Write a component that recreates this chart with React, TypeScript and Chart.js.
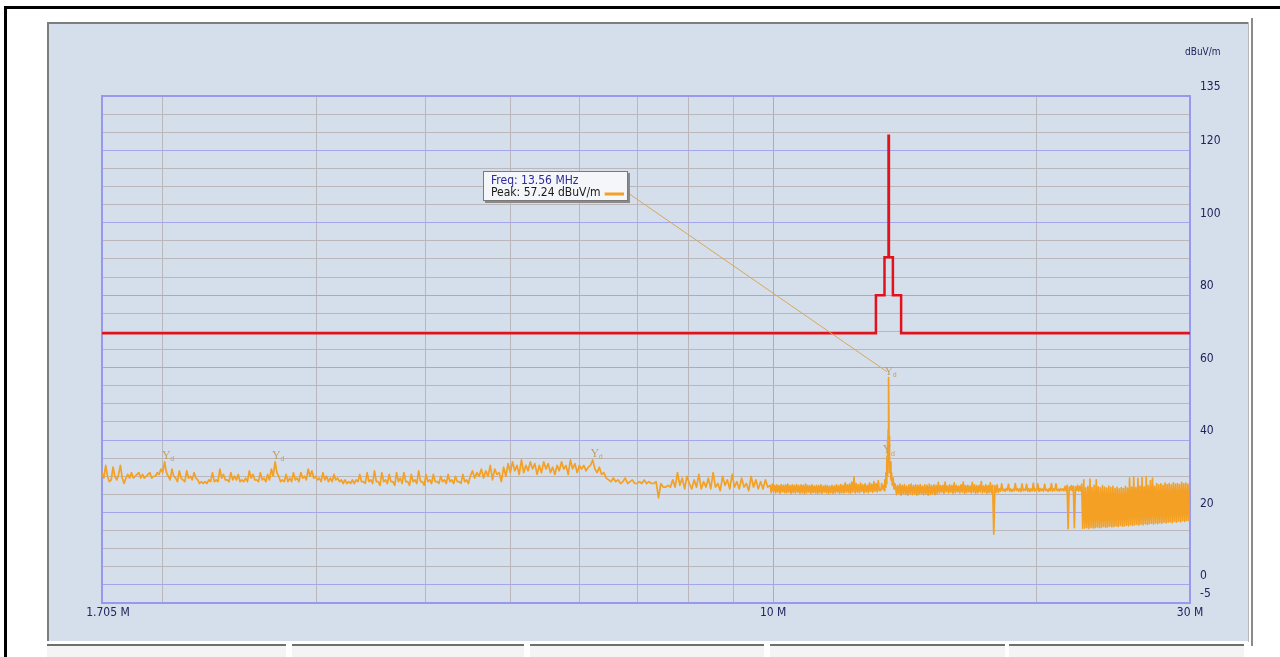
import { useEffect, useRef } from "react";
import { Chart, registerables } from "chart.js";

Chart.register(...registerables);

// ---------------- axes ----------------
const xGridFreqs = [1.705, 2, 3, 4, 5, 6, 7, 8, 9, 10, 20, 30];
const xMajorFreqs = [10];
const xLabelFreqs = [1.705, 10, 30];
const xLabelTexts = ["1.705 M", "10 M", "30 M"];
const yGridLevels = [-5, 0, 5, 10, 15, 20, 25, 30, 35, 40, 45, 50, 55, 60, 65, 70, 75, 80, 85, 90, 95, 100, 105, 110, 115, 120, 125, 130, 135];
const yMajorLevels = [0, 20, 40, 60, 80, 100, 120];
const yLabelLevels = [135, 120, 100, 80, 60, 40, 20, 0, -5];
const unitLabel = "dBuV/m";

// ---------------- limit line (stepped) ----------------
const limitFreqs = [1.705, 13.11, 13.41, 13.553, 13.567, 13.71, 14.01, 30];
const limitLevels = [69.5, 80, 90.5, 124, 90.5, 80, 69.5, 69.5];

// ---------------- measured trace ----------------
const seg1Start = 1.705;
const seg1Stop = 4.5;
const seg1Peaks = [
  31, 33, 28.5, 32.5, 29, 33, 28,
  30.5, 31, 30, 31, 30.5, 30, 31, 30, 31,
  32, 34,
  30, 32, 29.5, 31.5, 29, 31.5, 30, 31,
  29, 28.5, 28.5, 29,
  31, 29, 32, 30.5, 29, 31, 30, 30.5,
  29, 29.5, 31.5, 30.5, 29, 31, 29.5, 30.5,
  32, 34,
  30, 29, 30.5, 29.5, 31, 29.5, 31, 30,
  32, 31.5, 30, 29.5,
  31, 30, 29.5, 30.5, 29.5, 29, 29, 28.5, 29, 29, 30.5,
  28.5, 31, 29, 31.5, 28.5, 31, 29, 30.5, 28.5, 31, 29.5, 31, 28.5, 30.5, 29, 31.5, 28.5, 30.5,
  29, 30.5, 28.5, 30, 29, 30.5, 29, 30, 28.5, 30.5, 29,
];
const seg1Valleys = [
  29.5, 30, 29, 30, 30.5, 29.5, 29.5,
  29.5, 29.5, 30.5, 29.5, 29.5, 30.5, 29.5, 30, 30.5,
  31, 31,
  29, 30, 28.5, 29.5, 28.5, 29.5, 29, 29.5,
  28, 28, 28, 28.5,
  28.5, 28.5, 29.5, 29, 28.5, 29, 29, 28.5,
  28.5, 28.5, 29.5, 29, 28.5, 29, 28.5, 29,
  30, 31,
  28.5, 28.5, 28.5, 28.5, 29, 28.5, 29.5, 29,
  30, 29.5, 29, 28.5,
  29, 28.5, 28.5, 29, 28.5, 28, 28, 28, 28, 28.5, 28.5,
  28, 28.5, 28, 28.5, 27.5, 28.5, 28, 28.5, 27.5, 28.5, 28, 28.5, 27.5, 28.5, 28, 28.5, 27.5, 28.5,
  28, 28.5, 28, 28.5, 28, 28.5, 28, 28.5, 28, 28.5, 28,
];

const seg2Start = 4.5;
const seg2Stop = 6.4;
const seg2Levels = [
  30, 31.5, 29.5, 31, 30, 32, 29.5, 31.5, 30, 33,
  29, 32, 30.5, 31, 28.5, 32.5, 30, 33.5, 31, 34,
  31.5, 33, 30.5, 34.5, 31, 33, 31.5, 34, 32, 33.5,
  30.5, 33, 31, 34, 32, 33.5, 31, 32.5, 30.5, 33,
  31.5, 34, 32, 33, 30.5, 34.5, 32, 33.5, 31, 33,
  32, 33, 31.5, 32.5, 33, 34.5, 32, 31, 32.5, 30.5,
];

const seg3Start = 6.4;
const seg3Stop = 9.92;
const seg3Levels = [
  31, 29.5, 29, 28.5, 29.5, 28.5, 29, 28, 28.5, 29.5, 28, 28.5, 29, 28, 28, 28.5, 28, 29, 28, 28.5, 28, 28, 28.5, 24, 28,
  27, 27, 27.5, 27, 29, 27, 31, 27.5, 29.5, 26.5, 30, 28, 26.5, 29, 27, 30.5, 26.5, 28.5, 27, 29.5, 26.5, 31, 27, 28, 26, 30,
  27.5, 29, 26.5, 30.5, 27, 28.5, 26.5, 29.5, 27, 28, 26, 30, 27, 29, 26.5, 28.5, 26.5, 29, 27,
];

const seg4Start = 9.92;
const seg4Stop = 13.27;
const seg4High = [
  27.5, 27.8, 27.5, 27.6, 27.4, 27.7, 27.5, 27.6, 27.8, 27.4, 27.6, 27.5, 27.7, 27.4, 27.6, 27.5, 27.8, 27.5, 27.4, 27.6,
  27.3, 27.5, 27.4, 27.6, 27.3, 27.5, 27.4, 27.2, 27.5, 27.3, 27.6, 27.4, 27.7, 27.5, 28.2, 27.6, 27.9, 28.4, 29.8, 28,
  27.7, 28.1, 27.6, 27.9, 27.5, 28.2, 27.8, 28.5, 28, 28.8,
];
const seg4Low = [
  25.5, 25.8, 25.4, 25.6, 25.3, 25.7, 25.5, 25.4, 25.6, 25.3, 25.5, 25.4, 25.6, 25.3, 25.5, 25.2, 25.4, 25.6, 25.3, 25.5,
  25.4, 25.2, 25.5, 25.3, 25.6, 25.4, 25.2, 25.5, 25.3, 25.4, 25.6, 25.3, 25.5, 25.4, 25.6, 25.5, 25.3, 25.7, 25.4, 25.6,
  25.5, 25.8, 25.4, 25.7, 25.5, 25.8, 25.6, 25.9, 25.7, 26,
];

const peakFreqs = [13.28, 13.31, 13.34, 13.37, 13.4, 13.42, 13.44, 13.46, 13.48, 13.49, 13.5, 13.51, 13.52, 13.53, 13.54, 13.55, 13.56, 13.57, 13.58, 13.59, 13.6, 13.62, 13.64, 13.66, 13.69, 13.72, 13.75, 13.78];
const peakLevels = [26, 28, 26.5, 27.5, 26, 29, 27, 31, 28, 33, 35.5, 30, 40, 32, 42.8, 36, 57.24, 41, 33, 38, 31, 34, 29, 31, 27.5, 29.5, 26.5, 28];

const seg5Start = 13.8;
const seg5Stop = 21.58;
const seg5High = [
  27.6, 27.4, 27.8, 27.5, 27.7, 27.3, 27.6, 27.8, 27.4, 27.6, 27.5, 27.7, 27.3, 27.6, 27.5, 27.8, 27.4, 27.6, 27.5,
  28.3, 27.4, 27.5, 28.4, 27.3, 27.6, 27.4, 28.2, 27.5, 27.3, 27.6, 28.4, 27.4, 27.5, 27.3, 28.3, 27.6, 27.4, 27.5, 28.5, 27.3, 27.6, 27.4, 28.2, 27.5, 27.4, 27.6,
  26.5, 27.9, 26.4, 26.6, 27.8, 26.5, 26.4, 28, 26.6, 26.5, 27.9, 26.4, 27.8, 26.6, 26.5, 28.1, 26.4, 27.9, 26.6, 26.5, 27.8, 26.4, 26.6, 28, 26.5, 27.9, 26.4, 26.6, 26.5,
];
const seg5Low = [
  24.9, 25.2, 24.8, 25.1, 25, 24.8, 25.2, 24.9, 25.1, 24.8, 25, 25.2, 24.9, 25.1, 24.8, 25, 25.2, 24.9, 25.1,
  25.4, 25.6, 25.3, 25.7, 25.4, 25.6, 25.3, 25.5, 25.7, 25.4, 25.6, 25.3, 25.5, 25.7, 25.4, 25.6, 25.3, 25.5, 25.7, 25.4, 25.6, 25.3, 25.5, 25.4, 14, 25.6, 25.5,
  25.9, 26, 25.8, 26.1, 25.9, 25.8, 26, 26.1, 25.9, 25.8, 26, 26.1, 25.9, 25.8, 26, 25.9, 26.1, 25.8, 26, 25.9, 26.1, 25.8, 26, 25.9, 26.1, 26, 25.9, 26.1, 26,
];

const seg6Start = 21.58;
const seg6Stop = 30;
const seg6High = [
  27.2, 27.5, 27, 27.4, 27.3, 27.1, 27.5, 27.2,
  27.8, 29, 26.8, 27.2, 29.2, 26.9, 27.5, 29, 27.1, 26.8, 27.4, 27, 26.7, 27.3, 26.9, 27.2, 26.6,
  27, 26.5, 26.9, 26.6, 27.2, 26.7, 29.5, 27, 29.8, 26.9, 29.4, 27.3, 29.6, 27.1, 29.9, 27.4, 28.8, 29.5, 27.2,
  28, 27.6, 27.9, 27.5, 28.1, 27.7, 28, 27.6, 28.2, 27.8, 28, 27.7, 28.3, 27.9, 28.1, 27.8,
];
const seg6Low = [
  26, 15.5, 26.2, 26, 15.8, 26.1, 25.9, 26,
  15.6, 15.7, 15.8, 15.6, 15.9, 15.7, 15.8, 16, 15.8, 15.9, 16.1, 15.9, 16, 16.2, 16, 16.1, 16.3,
  16.1, 16.4, 16.2, 16.3, 16.5, 16.3, 16.6, 16.4, 16.6, 16.7, 16.5, 16.8, 16.6, 16.9, 16.7, 16.9, 17, 16.8, 17.1,
  16.9, 17.2, 17, 17.3, 17.1, 17.3, 17.4, 17.2, 17.5, 17.3, 17.6, 17.4, 17.7, 17.5, 17.8, 17.6,
];

// ---------------- markers / readout ----------------
const markerFreqs = [2.02, 2.7, 6.25, 13.5, 13.56];
const markerLevels = [34, 34, 34.5, 35.5, 57.24];
const readoutFreq = 13.56;
const readoutLevel = 57.24;

// ---------------- styles ----------------
const FONT = "'Liberation Sans Narrow', 'DejaVu Sans Condensed', 'Liberation Sans', Arial, sans-serif";
const PANEL_BG = "#d5dfeb";
const MAJOR = "#a5a5ee";
const MINOR = "#bbb6ba";
const FRAME = "#9898ee";
const LABEL = "#22225c";
const LIMIT = "#e2121c";
const TRACE = "#f4a024";
const MARKER = "#c29e66";
const LEADER = "#d9a658";

type Pt = { x: number; y: number };

function sweep(start: number, stop: number, levels: number[]): Pt[] {
  const n = levels.length;
  const r = Math.log(stop / start);
  return levels.map((v, i) => ({ x: start * Math.exp((r * i) / n), y: v }));
}
function zigzag(hi: number[], lo: number[]): number[] {
  const out: number[] = [];
  const n = Math.min(hi.length, lo.length);
  for (let i = 0; i < n; i++) out.push(hi[i], lo[i]);
  return out;
}

const traceData: Pt[] = [
  ...sweep(seg1Start, seg1Stop, zigzag(seg1Peaks, seg1Valleys)),
  ...sweep(seg2Start, seg2Stop, seg2Levels),
  ...sweep(seg3Start, seg3Stop, seg3Levels),
  ...sweep(seg4Start, seg4Stop, zigzag(seg4High, seg4Low)),
  ...peakFreqs.map((f, i) => ({ x: f, y: peakLevels[i] })),
  ...sweep(seg5Start, seg5Stop, zigzag(seg5High, seg5Low)),
  ...sweep(seg6Start, seg6Stop, zigzag(seg6High, seg6Low)),
];

const limitData: Pt[] = limitFreqs.map((f, i) => ({ x: f, y: limitLevels[i] }));

const decorPlugin = {
  id: "decor",
  beforeDatasetsDraw(chart: any) {
    const { ctx, chartArea: a } = chart;
    ctx.save();
    ctx.strokeStyle = FRAME;
    ctx.lineWidth = 2;
    ctx.strokeRect(a.left, a.top, a.right - a.left, a.bottom - a.top);
    ctx.restore();
  },
  afterDatasetsDraw(chart: any) {
    const { ctx, chartArea: a, scales } = chart;
    const xs = scales.x;
    const ys = scales.y;
    ctx.save();

    // x tick labels
    ctx.fillStyle = LABEL;
    ctx.font = `12px ${FONT}`;
    ctx.textBaseline = "top";
    ctx.textAlign = "center";
    const nudge = [6, 0, 0];
    xLabelFreqs.forEach((f, i) => {
      ctx.fillText(xLabelTexts[i], xs.getPixelForValue(f) + nudge[i], a.bottom + 4);
    });

    // unit
    ctx.font = `10px ${FONT}`;
    ctx.textAlign = "left";
    ctx.textBaseline = "middle";
    ctx.fillText(unitLabel, a.right - 5, 52);

    // markers
    ctx.fillStyle = MARKER;
    markerFreqs.forEach((f, i) => {
      const px = xs.getPixelForValue(f);
      const py = ys.getPixelForValue(markerLevels[i]);
      ctx.font = "12px 'Liberation Serif', serif";
      ctx.textAlign = "center";
      ctx.textBaseline = "bottom";
      ctx.fillText("Y", px, py);
      ctx.font = "7px 'Liberation Sans', sans-serif";
      ctx.textAlign = "left";
      ctx.fillText("d", px + 4, py + 1);
    });

    // readout leader line
    const bx = 483, by = 171, bw = 145, bh = 30;
    const tx = xs.getPixelForValue(readoutFreq) - 2;
    const ty = ys.getPixelForValue(readoutLevel) - 6;
    ctx.strokeStyle = LEADER;
    ctx.lineWidth = 1;
    ctx.beginPath();
    ctx.moveTo(bx + bw, by + 22);
    ctx.lineTo(tx, ty);
    ctx.stroke();

    // readout box
    ctx.fillStyle = "#8a8a8a";
    ctx.fillRect(bx + 2, by + 2, bw, bh);
    ctx.fillStyle = "#f4f6fa";
    ctx.fillRect(bx, by, bw, bh);
    ctx.strokeStyle = "#7a7a7a";
    ctx.strokeRect(bx + 0.5, by + 0.5, bw - 1, bh - 1);

    ctx.textAlign = "left";
    ctx.textBaseline = "middle";
    ctx.font = `12px ${FONT}`;
    ctx.fillStyle = "#2c2c9c";
    ctx.fillText(`Freq: ${readoutFreq.toFixed(2)} MHz`, bx + 8, by + 10);
    ctx.fillStyle = "#1a1a1a";
    const t2 = `Peak: ${readoutLevel.toFixed(2)} ${unitLabel}`;
    ctx.fillText(t2, bx + 8, by + 22);
    const w2 = ctx.measureText(t2).width;
    ctx.strokeStyle = TRACE;
    ctx.lineWidth = 3;
    ctx.beginPath();
    ctx.moveTo(bx + 8 + w2 + 4, by + 23);
    ctx.lineTo(bx + bw - 4, by + 23);
    ctx.stroke();

    ctx.restore();
  },
};

export default function App() {
  const ref = useRef<HTMLCanvasElement>(null);

  useEffect(() => {
    if (!ref.current) return;
    const chart = new Chart(ref.current, {
      type: "line",
      data: {
        datasets: [
          {
            label: "Limit",
            data: limitData,
            stepped: "before",
            borderColor: LIMIT,
            borderWidth: 2.5,
            pointRadius: 0,
            fill: false,
            borderJoinStyle: "miter",
          },
          {
            label: "Peak",
            data: traceData,
            borderColor: TRACE,
            borderWidth: 1.7,
            borderJoinStyle: "round",
            pointRadius: 0,
            tension: 0,
            fill: false,
          },
        ],
      },
      options: {
        animation: false,
        responsive: false,
        events: [],
        layout: { padding: { left: 102, top: 96, right: 40, bottom: 34 } },
        plugins: {
          legend: { display: false },
          tooltip: { enabled: false },
        },
        scales: {
          x: {
            type: "logarithmic",
            min: 1.705,
            max: 30,
            afterBuildTicks: (s: any) => {
              s.ticks = xGridFreqs.map((v) => ({ value: v }));
            },
            afterFit: (s: any) => {
              s.height = 20;
            },
            ticks: { display: false, autoSkip: false },
            grid: {
              drawTicks: false,
              lineWidth: 1,
              color: (c: any) => (xMajorFreqs.includes(c.tick?.value) ? MAJOR : MINOR),
            },
            border: { display: false },
          },
          y: {
            type: "linear",
            position: "right",
            min: -5,
            max: 135,
            afterBuildTicks: (s: any) => {
              s.ticks = yGridLevels.map((v) => ({ value: v }));
            },
            afterFit: (s: any) => {
              s.width = 50;
            },
            ticks: {
              autoSkip: false,
              padding: 10,
              labelOffset: -9,
              color: LABEL,
              font: { family: FONT, size: 12 },
              callback: (v: any) => (yLabelLevels.includes(Number(v)) ? String(v) : ""),
            },
            grid: {
              drawTicks: false,
              lineWidth: 1,
              color: (c: any) => (yMajorLevels.includes(c.tick?.value) ? MAJOR : MINOR),
            },
            border: { display: false },
          },
        },
      },
      plugins: [decorPlugin],
    } as any);
    return () => chart.destroy();
  }, []);

  const tabs = [
    [47, 239],
    [292, 232],
    [530, 234],
    [770, 235],
    [1009, 235],
  ];

  return (
    <div style={{ position: "absolute", left: 0, top: 0, width: 1280, height: 657, background: "#ffffff", overflow: "hidden" }}>
      <div style={{ position: "absolute", left: 4, top: 6, width: 1276, height: 3, background: "#000" }} />
      <div style={{ position: "absolute", left: 4, top: 6, width: 3, height: 651, background: "#000" }} />
      <div
        style={{
          position: "absolute",
          left: 47,
          top: 22,
          width: 1201,
          height: 619,
          background: PANEL_BG,
          borderTop: "2px solid #7d7d7d",
          borderLeft: "2px solid #7d7d7d",
          boxSizing: "border-box",
        }}
      />
      <div style={{ position: "absolute", left: 1248, top: 22, width: 1, height: 620, background: "#b8b8b8" }} />
      <div style={{ position: "absolute", left: 1251, top: 18, width: 2, height: 628, background: "#8a8a8a" }} />
      {tabs.map(([l, w], i) => (
        <div key={i} style={{ position: "absolute", left: l, top: 644, width: w, height: 13, borderTop: "2px solid #6e6e6e", background: "#f4f4f4", boxSizing: "border-box" }} />
      ))}
      <canvas ref={ref} width={1280} height={657} style={{ position: "absolute", left: 0, top: 0, width: 1280, height: 657 }} />
    </div>
  );
}
